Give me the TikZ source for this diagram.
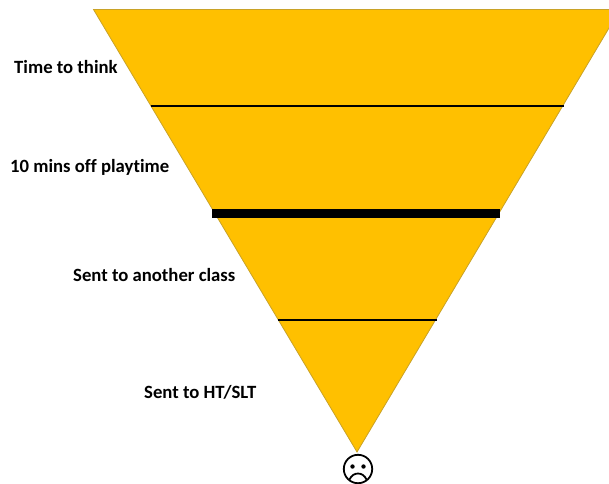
\documentclass[tikz,border=0pt]{standalone}
\usepackage{fontspec}
\setmainfont[Ligatures=NoCommon]{Carlito}
\tikzset{
  lbl/.style={font=\fontsize{18.7}{22}\selectfont\bfseries, text=black, inner sep=0pt, anchor=base west},
  tier/.style={draw=black, line cap=butt},
}
\definecolor{amber}{HTML}{FFC000}
\definecolor{amberedge}{HTML}{C9A227}
\begin{document}
\begin{tikzpicture}[x=1pt,y=-1pt]
\useasboundingbox (0,0) rectangle (609,483);
\begin{scope}
\clip (0,0) rectangle (609,483);
\fill[amber, draw=amberedge, line width=0.8pt] (93.5,9.5) -- (620,9.5) -- (357,452) -- cycle;
\end{scope}
\coordinate (a1) at (150.5,106); \coordinate (a2) at (564,106);
\coordinate (b1) at (212,213.5); \coordinate (b2) at (500,213.5);
\coordinate (c1) at (278,320); \coordinate (c2) at (437,320);
\draw[tier, line width=2.6pt] (a1) -- (a2);
\draw[tier, line width=9pt] (b1) -- (b2);
\draw[tier, line width=2.6pt] (c1) -- (c2);
\node[lbl] (t1) at (14,73.2) {Time to think};
\node[lbl] (t2) at (10,172.7) {10 mins off playtime};
\node[lbl] (t3) at (73,281.5) {Sent to another class};
\node[lbl] (t4) at (144,398.2) {Sent to HT/SLT};
\draw[line width=1.8pt] (358,469) circle (14.2);
\fill (352.5,466.5) circle (2.2);
\fill (363.5,466.5) circle (2.2);
\draw[line width=1.8pt] (349.5,479.5) .. controls (353,471.5) and (363,471.5) .. (366.5,479.5);
\end{tikzpicture}
\end{document}
